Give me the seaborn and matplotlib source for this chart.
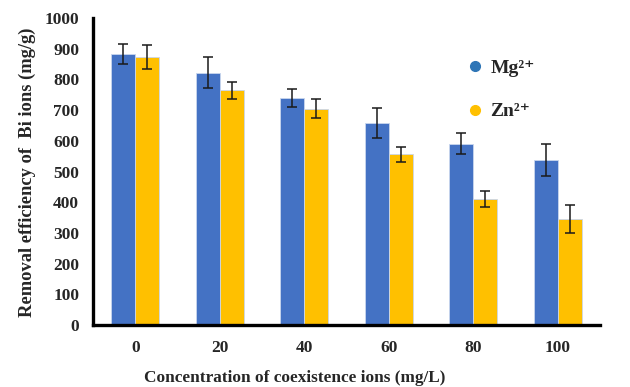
import numpy as np
import pandas as pd
import matplotlib
matplotlib.use("Agg")
import matplotlib.pyplot as plt
from matplotlib.lines import Line2D
import seaborn as sns

categories = ["0", "20", "40", "60", "80", "100"]
mg_values = [882, 822, 739, 659, 590, 538]
mg_errors = [33, 51, 30, 49, 34, 53]
zn_values = [873, 764, 704, 556, 410, 345]
zn_errors = [39, 29, 31, 25, 25, 45]
series = ["Mg", "Zn"]
series_labels = ["Mg\u00b2\u207a", "Zn\u00b2\u207a"]
y_ticks = [0, 100, 200, 300, 400, 500, 600, 700, 800, 900, 1000]

bar_colors = ["#4472C4", "#FFC000"]
legend_colors = ["#2E75B6", "#FFC000"]

sns.set_style("white")
plt.rcParams["font.family"] = ["Liberation Serif", "DejaVu Serif"]
plt.rcParams["font.weight"] = "bold"

df = pd.DataFrame({
    "conc": categories * 2,
    "ion": [series[0]] * len(categories) + [series[1]] * len(categories),
    "value": mg_values + zn_values,
})

fig = plt.figure(figsize=(6.3, 3.87), dpi=100)
ax = fig.add_axes([93 / 630, 1 - 325 / 387, (600 - 93) / 630, (325 - 18) / 387])

sns.barplot(data=df, x="conc", y="value", hue="ion", order=categories,
            hue_order=series, palette=bar_colors, saturation=1, width=0.57,
            errorbar=None, ax=ax, legend=False, edgecolor="#c9d6ee", linewidth=0.6)

for cont, errs in zip(ax.containers, [mg_errors, zn_errors]):
    xs = [p.get_x() + p.get_width() / 2 for p in cont]
    hs = [p.get_height() for p in cont]
    ax.errorbar(xs, hs, yerr=errs, fmt="none", ecolor="#1a1a1a",
                elinewidth=1.1, capsize=3.3, capthick=1.1)

ax.set_ylim(0, 1000)
ax.set_xlim(-0.5, len(categories) - 0.5)
ax.set_yticks(y_ticks)
ax.set_yticklabels([str(t) for t in y_ticks], fontsize=12.5, fontweight="bold")
ax.set_xticks(np.arange(len(categories)))
ax.set_xticklabels(categories, fontsize=12.5, fontweight="bold")
ax.tick_params(axis="x", length=0, pad=11)
ax.set_xticks(np.arange(len(categories) + 1) - 0.5, minor=True)
ax.tick_params(axis="x", which="minor", length=5, width=2.2, direction="out", color="black")
ax.tick_params(axis="y", length=4, width=2.2, direction="out", color="black", pad=6)
ax.set_xlabel("")
ax.set_ylabel("")

for s in ["top", "right"]:
    ax.spines[s].set_visible(False)
for s in ["left", "bottom"]:
    ax.spines[s].set_linewidth(2.4)
    ax.spines[s].set_color("black")

fig.text(27 / 630, 1 - 172 / 387, "Removal efficiency of  Bi ions (mg/g)",
         rotation=90, ha="center", va="center", fontsize=13.3, fontweight="bold")
fig.text(295 / 630, 1 - 378 / 387, "Concentration of coexistence ions (mg/L)",
         ha="center", va="center", fontsize=12.4, fontweight="bold")

handles = [Line2D([0], [0], marker="o", linestyle="none", markersize=7,
                  markerfacecolor=c, markeredgecolor=c) for c in legend_colors]
fig.legend(handles, series_labels, loc="upper left",
           bbox_to_anchor=(468 / 630, 1 - 59 / 387), frameon=False,
           borderpad=0, borderaxespad=0, handlelength=0.7, handletextpad=0.45,
           labelspacing=1.35, prop={"family": ["Liberation Serif", "DejaVu Serif"],
                                    "weight": "bold", "size": 14})

fig.savefig("out.png", dpi=100)
